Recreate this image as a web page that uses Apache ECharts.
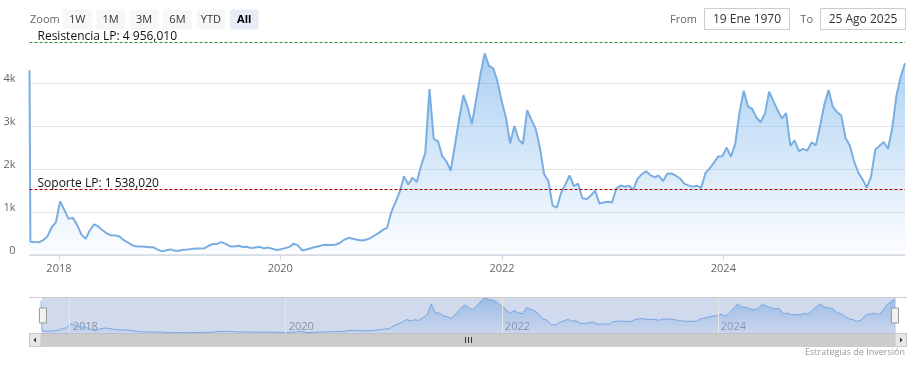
<!DOCTYPE html>
<html>
<head>
<meta charset="utf-8">
<script src="https://cdn.jsdelivr.net/npm/echarts@6/dist/echarts.min.js"></script>
<style>
  html, body { margin: 0; padding: 0; background: #fff; }
  #chart { width: 916px; height: 368px; }
</style>
</head>
<body>
<div id="chart"></div>
<script>
// ---------- DATA ----------
const openingQuote = ['2017-09-26', 4300];          // first (outlier) quote
const startDate = '2017-09-29';                      // first regular quote
const stepDays = 14;                                 // quotes every 2 weeks
const prices = [
  310,300,295,345,430,640,760,1250,1050,840,
  865,700,480,375,570,715,660,575,500,460,
  452,430,345,290,225,196,195,190,180,178,
  125,85,110,130,100,97,122,128,137,150,
  152,155,215,256,258,300,258,200,196,215,
  185,192,160,175,190,157,172,145,118,135,
  160,185,265,225,105,128,155,185,205,235,
  240,235,245,290,360,400,378,355,338,355,
  390,450,510,585,630,1000,1230,1473,1830,1640,
  1800,1700,2070,2370,3860,2700,2650,2300,2180,1960,
  2560,3180,3720,3430,3050,3620,4200,4690,4400,4350,
  4040,3580,3200,2600,3000,2690,2580,3370,3150,2940,
  2500,1880,1720,1150,1100,1450,1640,1850,1600,1660,
  1320,1300,1380,1500,1200,1220,1240,1220,1550,1615,
  1590,1610,1520,1770,1880,1950,1860,1810,1850,1720,
  1890,1899,1845,1780,1660,1620,1590,1610,1560,1910,
  2015,2150,2290,2300,2500,2290,2580,3300,3820,3460,
  3400,3200,3090,3290,3800,3580,3370,3180,3300,2540,
  2670,2420,2470,2430,2620,2550,3000,3500,3838,3450,
  3330,3240,2720,2550,2180,1920,1760,1570,1820,2450,
  2540,2630,2470,2950,3720,4150,4460
];
const resistance = 4956.01;
const support = 1538.02;
const resistanceLabel = 'Resistencia LP';
const supportLabel = 'Soporte LP';
const xTickDates = ['2018-01-01', '2020-01-01', '2022-01-01', '2024-01-01'];
const yTickLabels = ['0', '1k', '2k', '3k', '4k'];
const rangeButtons = ['1W', '1M', '3M', '6M', 'YTD', 'All'];
const selectedRange = 'All';
const fromText = '19 Ene 1970';
const toText = '25 Ago 2025';
const creditText = 'Estrategias de Inversión';

// ---------- BUILD ----------
const DAY = 86400000;
const t0 = new Date(startDate).getTime();
const seriesData = [[new Date(openingQuote[0]).getTime(), openingQuote[1]]]
  .concat(prices.map((v, i) => [t0 + i * stepDays * DAY, v]));
const xMin = seriesData[0][0];
const xMax = seriesData[seriesData.length - 1][0];
const xTicks = xTickDates.map(d => new Date(d).getTime());
const yearOf = v => String(new Date(v + 2 * DAY).getUTCFullYear());
const fmt = v => {
  const p = v.toFixed(3).split('.');
  return p[0].replace(/\B(?=(\d{3})+(?!\d))/g, ' ') + ',' + p[1];
};
const FONT = '"Open Sans", "DejaVu Sans", sans-serif';

const chart = echarts.init(document.getElementById('chart'), null, { renderer: 'canvas' });

const graphics = [];
graphics.push({ type: 'text', x: 30, y: 19.5, style: { text: 'Zoom', fill: '#666', font: '11px ' + FONT, verticalAlign: 'middle' } });
rangeButtons.forEach((b, i) => {
  const x = 63 + 33.4 * i;
  const sel = b === selectedRange;
  graphics.push({ type: 'rect', shape: { x: x, y: 9.5, width: 28.5, height: 20, r: 2 },
    style: { fill: sel ? '#e6ebf5' : '#f7f7f7', stroke: 'none' } });
  graphics.push({ type: 'text', x: x + 14.25, y: 19.5,
    style: { text: b, fill: sel ? '#000' : '#333', font: (sel ? 'bold ' : '') + '11px ' + FONT, align: 'center', verticalAlign: 'middle' } });
});
graphics.push({ type: 'text', x: 697, y: 19.5, style: { text: 'From', fill: '#666', font: '11px ' + FONT, align: 'right', verticalAlign: 'middle' } });
graphics.push({ type: 'rect', shape: { x: 704.5, y: 8.5, width: 85, height: 21 }, style: { fill: '#fff', stroke: '#cccccc', lineWidth: 1 } });
graphics.push({ type: 'text', x: 747, y: 19.5, style: { text: fromText, fill: '#333', font: '12px ' + FONT, align: 'center', verticalAlign: 'middle' } });
graphics.push({ type: 'text', x: 813, y: 19.5, style: { text: 'To', fill: '#666', font: '11px ' + FONT, align: 'right', verticalAlign: 'middle' } });
graphics.push({ type: 'rect', shape: { x: 820.5, y: 8.5, width: 85, height: 21 }, style: { fill: '#fff', stroke: '#cccccc', lineWidth: 1 } });
graphics.push({ type: 'text', x: 863, y: 19.5, style: { text: toText, fill: '#333', font: '12px ' + FONT, align: 'center', verticalAlign: 'middle' } });
graphics.push({ type: 'line', shape: { x1: 29, y1: 297.5, x2: 907, y2: 297.5 }, style: { stroke: '#cccccc', lineWidth: 1 }, z: 10 });
graphics.push({ type: 'rect', shape: { x: 29, y: 333.5, width: 878, height: 13 }, style: { fill: '#f2f2f2', stroke: '#f2f2f2' } });
graphics.push({ type: 'rect', shape: { x: 41, y: 333.5, width: 854, height: 13 }, style: { fill: '#cccccc', stroke: '#cccccc' } });
graphics.push({ type: 'rect', shape: { x: 29.5, y: 333.5, width: 11.5, height: 13 }, style: { fill: '#e6e6e6', stroke: '#cccccc' } });
graphics.push({ type: 'rect', shape: { x: 895, y: 333.5, width: 11.5, height: 13 }, style: { fill: '#e6e6e6', stroke: '#cccccc' } });
graphics.push({ type: 'polygon', shape: { points: [[33.5, 340], [36, 337.5], [36, 342.5]] }, style: { fill: '#333' } });
graphics.push({ type: 'polygon', shape: { points: [[902.5, 340], [900, 337.5], [900, 342.5]] }, style: { fill: '#333' } });
[-3, 0, 3].forEach(d => graphics.push({ type: 'line', shape: { x1: 468.5 + d, y1: 337, x2: 468.5 + d, y2: 343 }, style: { stroke: '#333', lineWidth: 1 } }));
graphics.push({ type: 'text', x: 905, y: 352, style: { text: creditText, fill: '#999', font: '9px ' + FONT, align: 'right', verticalAlign: 'middle' } });

const areaGrad = new echarts.graphic.LinearGradient(0, 0, 0, 1, [
  { offset: 0, color: 'rgba(124,181,236,0.9)' },
  { offset: 1, color: 'rgba(124,181,236,0.03)' }
]);
const navGrad = new echarts.graphic.LinearGradient(0, 0, 0, 1, [
  { offset: 0, color: 'rgba(124,181,236,0.85)' },
  { offset: 1, color: 'rgba(124,181,236,0.1)' }
]);

const option = {
  animation: false,
  textStyle: { fontFamily: FONT },
  grid: [
    { left: 29.5, right: 11, top: 42, bottom: 113 },
    { left: 41, right: 21, top: 297.5, height: 36 }
  ],
  xAxis: [
    { type: 'value', gridIndex: 0, min: xMin, max: xMax,
      axisLine: { lineStyle: { color: '#d3d9e3', width: 1.5 } },
      axisTick: { customValues: xTicks, length: 5, lineStyle: { color: '#ccd6eb' } },
      axisLabel: { customValues: xTicks, formatter: v => yearOf(v), color: '#666', fontSize: 11, margin: 8 },
      splitLine: { show: false } },
    { type: 'value', gridIndex: 1, min: xMin, max: xMax,
      axisLine: { show: false }, axisTick: { show: false },
      axisLabel: { customValues: xTicks, formatter: v => yearOf(v), inside: true, align: 'left', padding: [0, 0, 0, 3], color: '#999', fontSize: 11, margin: 1 },
      splitLine: { show: false } }
  ],
  yAxis: [
    { type: 'value', gridIndex: 0, min: 0, max: resistance, interval: 1000,
      axisLine: { show: false }, axisTick: { show: false },
      axisLabel: { formatter: v => (v % 1000 === 0 ? yTickLabels[v / 1000] || '' : ''), color: '#666', fontSize: 11, margin: 14, verticalAlign: 'bottom', lineHeight: 9, showMaxLabel: false },
      splitLine: { lineStyle: { color: ['#e6e6e6', '#e6e6e6', '#e6e6e6', '#e6e6e6', '#e6e6e6', 'rgba(0,0,0,0)'], width: 1 } } },
    { type: 'value', gridIndex: 1, min: 0, max: 'dataMax', show: false }
  ],
  dataZoom: [{
    type: 'slider', xAxisIndex: [0], filterMode: 'none', start: 0, end: 100,
    left: 41, right: 21, top: 297.5, height: 36,
    showDataShadow: false, showDetail: false, brushSelect: false,
    moveHandleSize: 0,
    backgroundColor: 'rgba(0,0,0,0)', borderColor: 'rgba(0,0,0,0)',
    fillerColor: 'rgba(102,133,194,0.3)',
    handleIcon: 'path://M0,0 L7,0 L7,15 L0,15 Z',
    handleSize: 15,
    handleStyle: { color: '#f2f2f2', borderColor: '#999', borderWidth: 1 },
    emphasis: { handleStyle: { color: '#f2f2f2', borderColor: '#999' } }
  }],
  series: [
    { type: 'line', xAxisIndex: 0, yAxisIndex: 0, data: seriesData, showSymbol: false, symbol: 'none',
      lineStyle: { color: '#7aaee2', width: 2 }, areaStyle: { color: areaGrad }, z: 2,
      markLine: { silent: true, symbol: 'none', animation: false,
        data: [
          { yAxis: resistance, lineStyle: { color: '#2e8b2e', type: [3, 2], width: 1 },
            label: { formatter: resistanceLabel + ': ' + fmt(resistance), position: 'insideStartTop', color: '#111', fontSize: 12, distance: [8, -1] } },
          { yAxis: support, lineStyle: { color: '#a50000', type: [3, 2], width: 1 },
            label: { formatter: supportLabel + ': ' + fmt(support), position: 'insideStartTop', color: '#111', fontSize: 12, distance: [8, -1] } }
        ] } },
    { type: 'line', xAxisIndex: 1, yAxisIndex: 1, data: seriesData, showSymbol: false, symbol: 'none',
      lineStyle: { color: '#7cb5ec', width: 1 }, areaStyle: { color: navGrad }, z: 1,
      markLine: { silent: true, symbol: 'none', animation: false, label: { show: false },
        lineStyle: { color: '#e6e6e6', type: 'solid', width: 1 },
        data: xTicks.map(t => ({ xAxis: t })) } }
  ],
  graphic: graphics
};
chart.setOption(option);
</script>
</body>
</html>
